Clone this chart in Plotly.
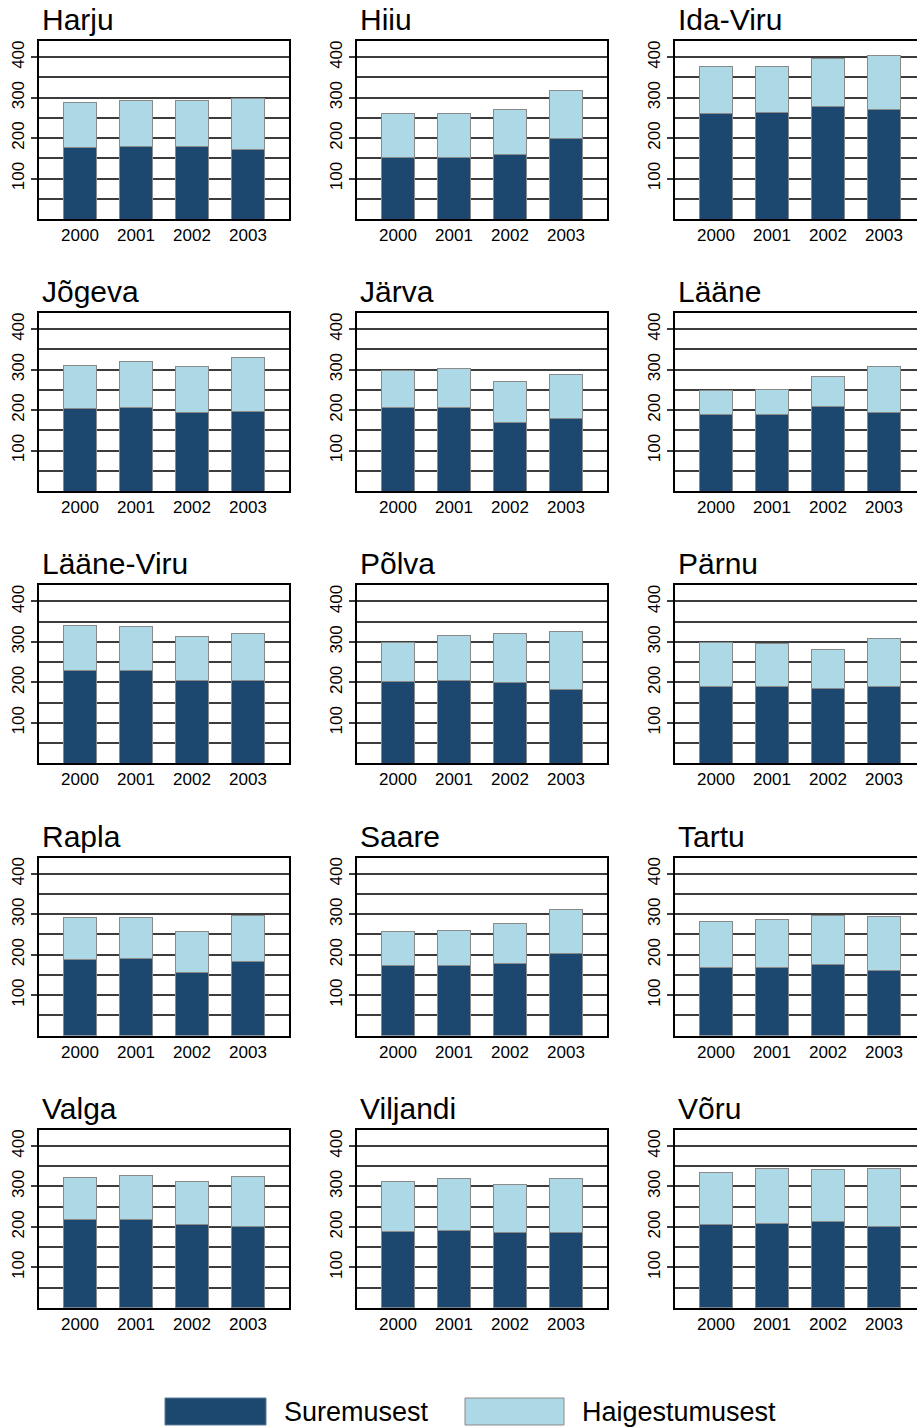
import plotly.graph_objects as go

# Years shown on every small multiple
years = ["2000", "2001", "2002", "2003"]

# County names, in panel order (left to right, top to bottom)
counties = [
    "Harju", "Hiiu", "Ida-Viru",
    "Jõgeva", "Järva", "Lääne",
    "Lääne-Viru", "Põlva", "Pärnu",
    "Rapla", "Saare", "Tartu",
    "Valga", "Viljandi", "Võru",
]

# Series names
series_names = ["Suremusest", "Haigestumusest"]

# Lower segment of each bar (Suremusest)
suremus = [
    [176, 178, 180, 171],
    [153, 153, 160, 199],
    [262, 264, 277, 270],
    [205, 206, 194, 197],
    [206, 207, 170, 178],
    [188, 189, 209, 193],
    [229, 229, 205, 205],
    [202, 204, 200, 182],
    [191, 191, 185, 191],
    [189, 190, 157, 182],
    [173, 173, 178, 202],
    [168, 168, 176, 160],
    [218, 219, 206, 200],
    [189, 190, 186, 186],
    [206, 208, 214, 200],
]

# Upper segment of each bar (Haigestumusest)
haigestumus = [
    [113, 114, 114, 128],
    [108, 108, 111, 118],
    [115, 114, 120, 133],
    [105, 113, 114, 132],
    [93, 95, 100, 111],
    [60, 63, 74, 114],
    [111, 108, 108, 116],
    [97, 113, 121, 145],
    [107, 105, 96, 118],
    [102, 102, 101, 116],
    [85, 87, 100, 109],
    [115, 120, 121, 135],
    [104, 108, 106, 124],
    [122, 129, 120, 133],
    [128, 136, 129, 145],
]

W, H = 917, 1427
DARK = "#1c4870"
LIGHT = "#add8e6"
EDGE = "#8a8a8a"
GRID = "#3c3c3c"
FONT = "Liberation Sans, Arial, sans-serif"

col_left = [39, 357, 675]
panel_w = 250
panel_h = 178
row_top = [41, 313, 585.3, 857.6, 1129.8]
unit_px = 56.0  # pixels per category step
x_lo = -0.732


def px_x(p):
    return p / W


def px_y(p):
    return 1 - p / H


fig = go.Figure()
layout = {}
annotations = []
shapes = []

x_pos = list(range(len(years)))

for k, name in enumerate(counties):
    r, c = divmod(k, 3)
    ax = "" if k == 0 else str(k + 1)
    xa, ya = "x" + ax, "y" + ax

    fig.add_trace(go.Bar(
        x=x_pos, y=suremus[k], xaxis=xa, yaxis=ya, width=0.6,
        marker=dict(color=DARK, line=dict(color=EDGE, width=1)),
        name=series_names[0], showlegend=False, hoverinfo="skip",
    ))
    fig.add_trace(go.Bar(
        x=x_pos, y=haigestumus[k], xaxis=xa, yaxis=ya, width=0.6,
        marker=dict(color=LIGHT, line=dict(color=EDGE, width=1)),
        name=series_names[1], showlegend=False, hoverinfo="skip",
    ))

    left = col_left[c]
    right = min(left + panel_w, W)
    top = row_top[r]
    bottom = top + panel_h
    x_hi = x_lo + (right - left) / unit_px

    layout["xaxis" + ax] = dict(
        domain=[px_x(left), px_x(right)],
        anchor=ya, range=[x_lo, x_hi],
        tickvals=x_pos, ticktext=years,
        showgrid=False, zeroline=False,
        showline=True, linecolor="black", linewidth=1.5, mirror=True,
        ticks="", tickfont=dict(family=FONT, size=17, color="black"),
        fixedrange=True,
    )
    layout["yaxis" + ax] = dict(
        domain=[px_y(bottom), px_y(top)],
        anchor=xa, range=[0, 440],
        tickvals=[100, 200, 300, 400],
        ticks="outside", ticklen=6, tickwidth=1.5, tickcolor=GRID,
        tickangle=-90, tickfont=dict(family=FONT, size=17, color="black"),
        showgrid=True, gridcolor=GRID, gridwidth=1.5,
        minor=dict(dtick=50, tick0=0, showgrid=True, gridcolor=GRID,
                   gridwidth=1.5, ticks=""),
        zeroline=False,
        showline=True, linecolor="black", linewidth=1.5,
        mirror=(c < 2),
        fixedrange=True,
    )

    annotations.append(dict(
        text=name, xref="paper", yref="paper",
        x=px_x(left + 1), y=px_y(top - 3),
        xanchor="left", yanchor="bottom", showarrow=False,
        font=dict(family=FONT, size=30, color="black"),
    ))

# Legend drawn as boxes with labels along the bottom
legend_boxes = [(165, 266, DARK, "#5a7a96"), (465, 564, LIGHT, EDGE)]
legend_text_x = [282, 580]
for (x0, x1, fill, line), tx, label in zip(legend_boxes, legend_text_x, series_names):
    shapes.append(dict(
        type="rect", xref="paper", yref="paper",
        x0=px_x(x0), x1=px_x(x1), y0=px_y(1425), y1=px_y(1398),
        fillcolor=fill, line=dict(color=line, width=1),
    ))
    annotations.append(dict(
        text=label, xref="paper", yref="paper",
        x=px_x(tx), y=px_y(1412), xanchor="left", yanchor="middle",
        showarrow=False, font=dict(family=FONT, size=27, color="black"),
    ))

fig.update_layout(
    **layout,
    barmode="stack",
    width=W, height=H,
    margin=dict(l=0, r=0, t=0, b=0),
    paper_bgcolor="white", plot_bgcolor="white",
    showlegend=False,
    annotations=annotations,
    shapes=shapes,
    font=dict(family=FONT, color="black"),
)

fig.write_html("out.html")
